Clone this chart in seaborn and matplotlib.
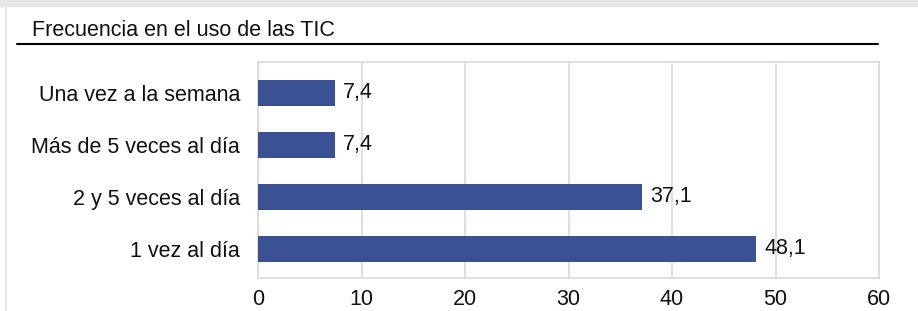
import matplotlib
matplotlib.use("Agg")
import matplotlib.pyplot as plt
import seaborn as sns
import pandas as pd
from matplotlib.lines import Line2D
from matplotlib.patches import Rectangle

# datos
categorias = ["Una vez a la semana", "Más de 5 veces al día", "2 y 5 veces al día", "1 vez al día"]
valores = [7.4, 7.4, 37.1, 48.1]
titulo = "Frecuencia en el uso de las TIC"

df = pd.DataFrame({"categoria": categorias, "valor": valores})

sns.set_style("white")
plt.rcParams['font.family'] = ['Liberation Sans', 'DejaVu Sans']

fig = plt.figure(figsize=(9.18, 3.11), dpi=100)
ax = fig.add_axes([258/918, 33/311, 621/918, 216/311])

sns.barplot(data=df, x="valor", y="categoria", orient="h", color="#3A5193",
            saturation=1, width=0.5, linewidth=0, ax=ax, zorder=3)

ax.set_xlim(0, 60)
ax.set_ylim(3.56, -0.59)
ax.set_xticks([0, 10, 20, 30, 40, 50, 60])
ax.xaxis.grid(True, color="#d9d9d9", linewidth=1.2, zorder=0)
for s in ax.spines.values():
    s.set_color("#d9d9d9")
    s.set_linewidth(1.2)
ax.set_xlabel("")
ax.set_ylabel("")
ax.tick_params(axis="both", length=0, labelsize=15.5, colors="#111111", pad=13)
ax.tick_params(axis="x", pad=8)

for c in ax.containers:
    ax.bar_label(c, labels=[f"{v:.1f}".replace(".", ",") for v in valores],
                 padding=6, fontsize=15.5, color="#111111")

# titulo y linea
fig.text(32/918, 1 - 30/311, titulo, fontsize=15.5, va="center", ha="left", color="#111111")
fig.add_artist(Line2D([17/918, 878/918], [1 - 44/311, 1 - 44/311], color="black", linewidth=1.5))

# borde gris del recorte
fig.add_artist(Rectangle((0, 1 - 6/311), 1, 6/311, color="#e6e6e6", transform=fig.transFigure))
fig.add_artist(Line2D([5.5/918, 5.5/918], [0, 1 - 6/311], color="#e6e6e6", linewidth=1.5))

fig.savefig("out.png", dpi=100)
